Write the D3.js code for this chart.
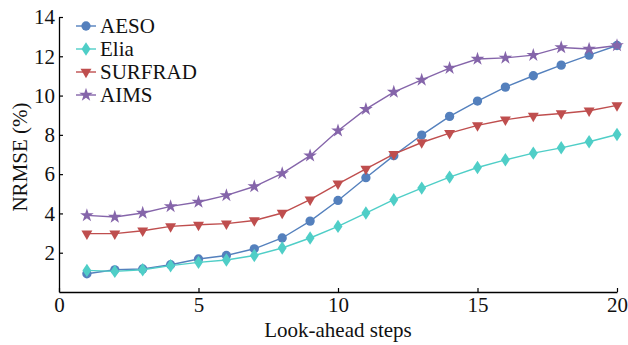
<!DOCTYPE html>
<html>
<head>
<meta charset="utf-8">
<script src="https://cdn.jsdelivr.net/npm/d3@7"></script>
<style>
  body { margin: 0; background: #fff; }
  svg { font-family: "Liberation Serif", "DejaVu Serif", serif; }
</style>
</head>
<body>
<svg id="chart" width="628" height="345"></svg>
<script>
// look-ahead steps 1..20
var steps = d3.range(1, 21);

var aeso = [0.93, 1.13, 1.17, 1.39, 1.68, 1.86, 2.2, 2.75, 3.61, 4.66,
            5.82, 6.94, 7.99, 8.94, 9.72, 10.43, 11.01, 11.55, 12.06, 12.55];
var elia = [1.10, 1.05, 1.13, 1.34, 1.51, 1.63, 1.86, 2.24, 2.75, 3.34,
            4.02, 4.70, 5.29, 5.85, 6.34, 6.73, 7.07, 7.34, 7.65, 8.02];
var surfrad = [2.97, 2.97, 3.12, 3.34, 3.42, 3.48, 3.64, 4.02, 4.70, 5.51,
               6.27, 7.02, 7.61, 8.09, 8.48, 8.77, 8.97, 9.09, 9.23, 9.50];
var aims = [3.90, 3.82, 4.02, 4.36, 4.58, 4.92, 5.37, 6.04, 6.94, 8.21,
            9.31, 10.18, 10.80, 11.40, 11.86, 11.92, 12.06, 12.45, 12.37, 12.55];

var seriesNames = ["AESO", "Elia", "SURFRAD", "AIMS"];
var seriesVals = [aeso, elia, surfrad, aims];
var colors = ["#5480bd", "#4fcec7", "#bf4e4e", "#8565aa"];
var symbols = [d3.symbolCircle, d3.symbolDiamond, d3.symbolTriangle, d3.symbolStar];
var symSize = [68, 52, 52, 58];

var xTicks = [0, 5, 10, 15, 20];
var yTicks = [2, 4, 6, 8, 10, 12, 14];

var margin = {left: 59, right: 11, top: 17, bottom: 53};
var width = 628, height = 345;
var fs = "21px";

var svg = d3.select("#chart");

var x = d3.scaleLinear().domain([0, 20]).range([margin.left, width - margin.right]);
var y = d3.scaleLinear().domain([0, 14]).range([height - margin.bottom, margin.top]);

// axes, ticks pointing inward
var xAxis = svg.append("g")
  .attr("transform", `translate(0,${y(0)})`)
  .call(d3.axisBottom(x).tickValues(xTicks).tickSizeInner(-4).tickSizeOuter(0).tickPadding(5));
var yAxis = svg.append("g")
  .attr("transform", `translate(${x(0)},0)`)
  .call(d3.axisLeft(y).tickValues(yTicks).tickSizeInner(-4).tickSizeOuter(0).tickPadding(4));

[xAxis, yAxis].forEach(function(a) {
  a.selectAll("path").attr("stroke", "#000").attr("stroke-width", 1.3);
  a.selectAll("line").attr("stroke", "#000").attr("stroke-width", 1.2);
  a.selectAll("text")
    .attr("fill", "#111")
    .style("font-family", "Liberation Serif, serif")
    .style("font-size", fs);
});

svg.append("text")
  .attr("x", x(10))
  .attr("y", 337)
  .attr("text-anchor", "middle")
  .style("font-size", fs)
  .attr("fill", "#111")
  .text("Look-ahead steps");

svg.append("text")
  .attr("transform", "translate(27,157) rotate(-90)")
  .attr("text-anchor", "middle")
  .style("font-size", fs)
  .attr("fill", "#111")
  .text("NRMSE (%)");

var line = d3.line()
  .x(function(d, i) { return x(steps[i]); })
  .y(function(d) { return y(d); });

function markTransform(k) {
  // triangle points down, diamond slightly wider
  return (k == 2 ? " rotate(180)" : "") + (k == 1 ? " scale(1.15,1)" : "");
}

seriesVals.forEach(function(vals, k) {
  var g = svg.append("g");
  g.append("path")
    .datum(vals)
    .attr("fill", "none")
    .attr("stroke", colors[k])
    .attr("stroke-width", 1.4)
    .attr("d", line);

  var sym = d3.symbol().type(symbols[k]).size(symSize[k]);
  g.selectAll("path.m")
    .data(vals)
    .join("path")
    .attr("class", "m")
    .attr("d", sym)
    .attr("fill", colors[k])
    .attr("transform", function(d, i) {
      return `translate(${x(steps[i])},${y(d)})` + markTransform(k);
    });
});

// legend
var legend = svg.append("g").attr("transform", "translate(76,26)");
seriesNames.forEach(function(name, k) {
  var row = legend.append("g").attr("transform", `translate(0,${k * 23})`);
  row.append("line")
    .attr("x1", 0).attr("x2", 20)
    .attr("stroke", colors[k]).attr("stroke-width", 1.4);
  row.append("path")
    .attr("d", d3.symbol().type(symbols[k]).size(symSize[k]))
    .attr("fill", colors[k])
    .attr("transform", "translate(10,0)" + markTransform(k));
  row.append("text")
    .attr("x", 24)
    .attr("y", 7)
    .style("font-size", fs)
    .attr("fill", "#111")
    .text(name);
});
</script>
</body>
</html>
